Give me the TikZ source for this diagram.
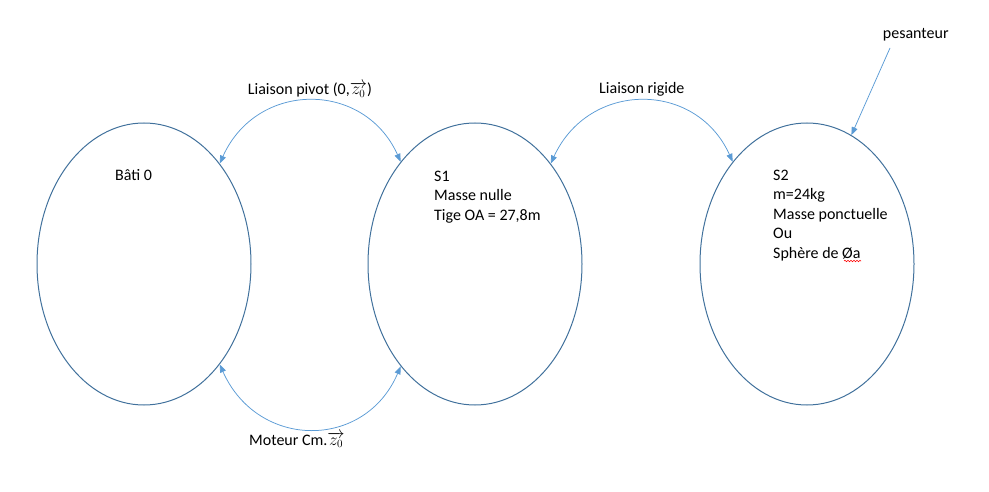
\documentclass[tikz,border=0pt]{standalone}
\usepackage{fontspec}
\setmainfont{Carlito}
\usetikzlibrary{shapes.geometric,arrows.meta,decorations.pathmorphing}
\definecolor{outl}{HTML}{41719C}
\definecolor{conn}{HTML}{5B9BD5}
\begin{document}
\begin{tikzpicture}[x=1pt,y=-1pt,
  body/.style={ellipse, draw=outl, line width=1pt, minimum width=214pt, minimum height=282pt, inner sep=0pt},
  txt/.style={font=\fontsize{16}{19.5}\selectfont, inner sep=0pt, align=left, anchor=north west},
  lab/.style={font=\fontsize{16}{19.5}\selectfont, inner sep=0pt, anchor=base west},
  link/.style={draw=conn, line width=0.75pt, {Triangle[length=8pt,width=6pt]}-{Triangle[length=8pt,width=6pt]}},
  force/.style={draw=conn, line width=0.75pt, -{Triangle[length=8pt,width=6pt]}}]
\useasboundingbox (0,0) rectangle (989,492);
% bodies
\node[body] (e1) at (144,264) {};
\node[body] (e2) at (475,264) {};
\node[body] (e3) at (807,264) {};
% texts in bodies
\node[txt] (t0) at (115,166.3) {\strut Bâti 0};
\node[txt] (t1) at (434,167.3) {\strut S1\\Masse nulle\\Tige OA = 27,8m};
\node[txt] (t2) at (773,166.3) {\strut S2\\m=24kg\\Masse ponctuelle\\Ou\\Sphère de Øa};
\draw[red, line width=0.6pt, decorate, decoration={snake, amplitude=0.7pt, segment length=3pt}] (844,261) -- (861,261);
% labels
\node[lab] (lp) at (247.7,94.5) {Liaison pivot (0,$\overrightarrow{z_0}$)};
\node[lab] (lr) at (599,93.5) {Liaison rigide};
\node[lab] (lm) at (249,445) {Moteur Cm.$\overrightarrow{z_0}$};
\node[lab] (lg) at (882.7,38.3) {pesanteur};
% connectors
\draw[link] (e1.53) .. controls (257,80.5) and (364,80.5) .. (e2.126);
\draw[link] (e2.53) .. controls (589,80.5) and (696,80.5) .. (e3.126);
\draw[link] (e1.-53) .. controls (258,450) and (365,450) .. (e2.-126);
\coordinate (pstart) at (890,48);
\draw[force] (pstart) -- (e3.71);
\end{tikzpicture}
\end{document}
